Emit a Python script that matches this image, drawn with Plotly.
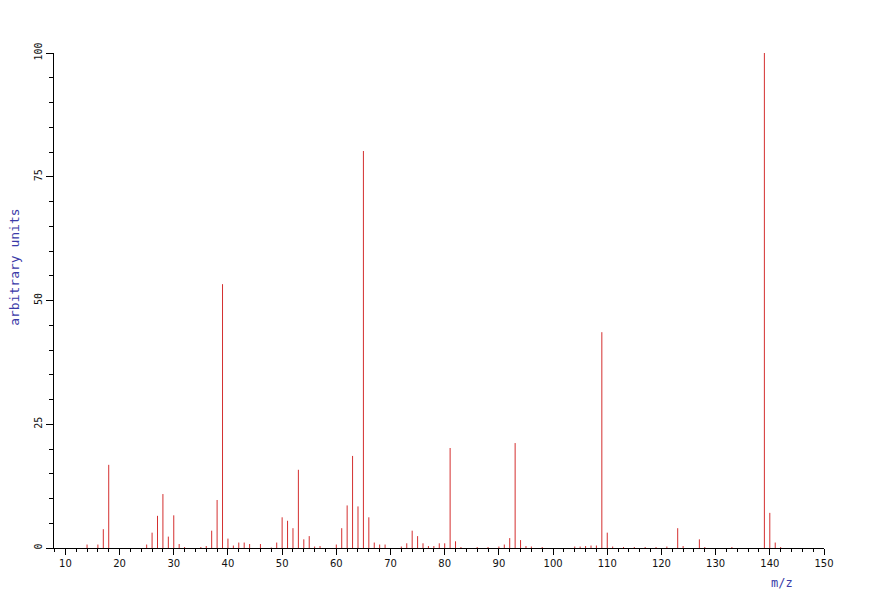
import plotly.graph_objects as go

# m/z values and relative intensities
mz = [14, 16, 17, 18, 25, 26, 27, 28, 29, 30, 31, 32, 35, 36, 37, 38, 39, 40,
      41, 42, 43, 44, 46, 48, 49, 50, 51, 52, 53, 54, 55, 56, 57, 60, 61, 62,
      63, 64, 65, 66, 67, 68, 69, 72, 73, 74, 75, 76, 77, 78, 79, 80, 81, 82,
      83, 86, 88, 90, 91, 92, 93, 94, 95, 96, 98, 104, 105, 106, 107, 108, 109,
      110, 111, 113, 115, 117, 119, 121, 123, 124, 127, 128, 133, 139, 140, 141, 142]
intensity = [0.7, 0.7, 3.8, 16.8, 0.7, 3.1, 6.5, 10.9, 2.3, 6.6, 0.8, 0.2, 0.2, 0.4, 3.5, 9.7, 53.3, 1.9,
             0.5, 1.1, 1.1, 0.8, 0.8, 0.1, 1.1, 6.2, 5.5, 4.0, 15.8, 1.75, 2.4, 0.3, 0.4, 0.7, 4.0, 8.6,
             18.6, 8.4, 80.2, 6.2, 1.1, 0.7, 0.7, 0.3, 0.95, 3.5, 2.4, 0.95, 0.4, 0.4, 0.95, 0.95, 20.2, 1.35,
             0.2, 0.2, 0.2, 0.3, 0.7, 2.0, 21.2, 1.6, 0.4, 0.3, 0.2, 0.3, 0.3, 0.4, 0.5, 0.5, 43.6,
             3.1, 0.3, 0.2, 0.2, 0.2, 0.2, 0.3, 4.0, 0.4, 1.75, 0.2, 0.2, 100.0, 7.1, 1.1, 0.2]

x_ticks = [10, 20, 30, 40, 50, 60, 70, 80, 90, 100, 110, 120, 130, 140, 150]
y_ticks = [0, 25, 50, 75, 100]

# build stick segments from the data arrays
xs, ys = [], []
for m, v in zip(mz, intensity):
    xs += [m, m, None]
    ys += [0, v, None]

fig = go.Figure()
fig.add_trace(go.Scatter(
    x=xs, y=ys, mode="lines",
    line=dict(color="#d42f2f", width=1),
    hoverinfo="skip", showlegend=False,
))

fig.update_layout(
    width=868, height=584,
    margin=dict(l=46, r=52, t=45, b=44),
    paper_bgcolor="white", plot_bgcolor="white",
    font=dict(family="DejaVu Sans", size=10, color="#111111"),
    xaxis=dict(
        range=[7.9, 150], tickvals=x_ticks, ticktext=[str(t) for t in x_ticks],
        showgrid=False, zeroline=False, showline=True, linecolor="black", linewidth=1,
        ticks="outside", ticklen=6, tickcolor="black", tickwidth=1, automargin=False,
        minor=dict(dtick=2, tick0=0, ticks="outside", ticklen=3, tickcolor="black", tickwidth=1),
        tickfont=dict(family="DejaVu Sans", size=10, color="#111111"),
    ),
    yaxis=dict(
        range=[0, 100], tickvals=y_ticks, ticktext=[str(t) for t in y_ticks],
        showgrid=False, zeroline=False, showline=True, linecolor="black", linewidth=1,
        ticks="outside", ticklen=7, tickcolor="black", tickwidth=1, tickangle=-90, automargin=False,
        minor=dict(dtick=5, tick0=0, ticks="outside", ticklen=4, tickcolor="black", tickwidth=1),
        tickfont=dict(family="DejaVu Sans Mono", size=10, color="#111111"),
    ),
    annotations=[
        dict(text="arbitrary units", xref="paper", yref="paper",
             x=0.0, xshift=-39, y=0.566, textangle=-90, showarrow=False,
             font=dict(family="DejaVu Sans Mono", size=13, color="#3a3aa8"),
             xanchor="center", yanchor="middle"),
        dict(text="m/z", xref="paper", yref="paper",
             x=0.945, y=0, yshift=-35, showarrow=False,
             font=dict(family="DejaVu Sans Mono", size=12, color="#3a3aa8"),
             xanchor="center", yanchor="middle"),
    ],
)

fig.write_html("out.html")
